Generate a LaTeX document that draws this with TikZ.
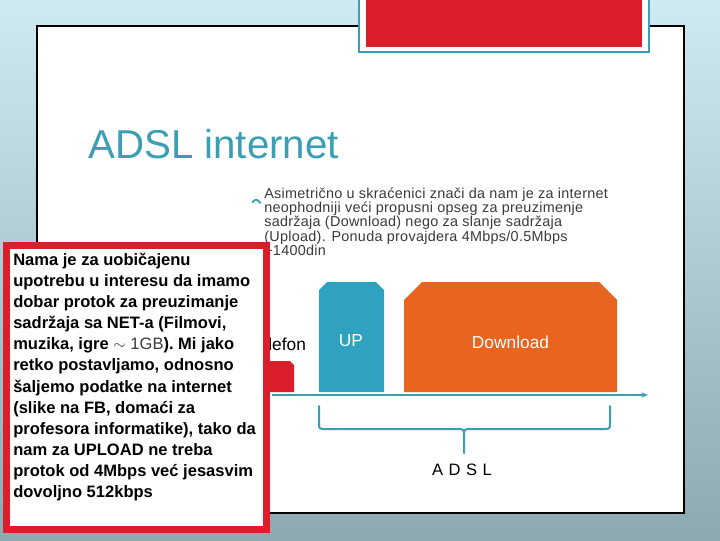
\documentclass[tikz,border=0pt]{standalone}
\usepackage{fontspec}
\setmainfont{Liberation Sans}
\usetikzlibrary{arrows.meta}
\definecolor{bgtop}{HTML}{CFEAF2}
\definecolor{bgbot}{HTML}{8DA9B0}
\definecolor{tealt}{HTML}{3A9FB4}
\definecolor{upc}{HTML}{2EA2C0}
\definecolor{dlc}{HTML}{E8641F}
\definecolor{redc}{HTML}{DA1F2A}
\definecolor{txtg}{HTML}{3A3A3A}
\tikzset{
  barlabel/.style={anchor=base,text=white,font=\fontsize{13}{15}\selectfont},
  tealline/.style={draw=tealt,line width=1.5pt}
}
\begin{document}
\begin{tikzpicture}[x=0.75pt,y=-0.75pt]
    \useasboundingbox (0,0) rectangle (720,540);

    % 背景与白色幻灯片
    \shade[top color=bgtop,bottom color=bgbot] (0,0) rectangle (720,540);
    \filldraw[fill=white,draw=black,line width=0.8pt] (37,26) rectangle (684,513);

    % 顶部红色标签
    \filldraw[fill=white,draw=tealt,line width=2pt] (359,-5) rectangle (649,52);
    \fill[redc] (366,-5) rectangle (642,47);

    % 标题
    \node[anchor=base west,text=tealt,font=\fontsize{30.2}{36}\selectfont,inner sep=0] (title) at (88,158) {ADSL internet};

    % 项目符号与说明文字
    \draw[tealt,line width=1.3pt,line cap=round] (252.5,202.5) .. controls (254.5,199) and (257,199) .. (259,201.5);
    \fill[tealt] (259.8,202.3) circle (1.5);
    \node[anchor=north west,align=left,inner sep=0,text=txtg,font=\fontsize{10.8}{10.7}\selectfont\addfontfeature{LetterSpace=2}] (opis) at (264,187.5)
      {Asimetrično u skraćenici znači da nam je za internet\\
       neophodniji veći propusni opseg za preuzimenje\\
       sadržaja (Download) nego za slanje sadržaja\\
       (Upload). Ponuda provajdera 4Mbps/0.5Mbps\\
       \textasciitilde1400din};

    % 频带：电话、上传、下载
    \fill[redc] (245,392) -- (245,361) -- (290,361) -- (294,365) -- (294,392) -- cycle;
    \fill[upc] (319,392) -- (319,290) -- (327,282) -- (376,282) -- (384,290) -- (384,392) -- cycle;
    \fill[dlc] (404,392) -- (404,300) -- (422,282) -- (599,282) -- (617,300) -- (617,392) -- cycle;
    \node[anchor=base,font=\fontsize{13}{15}\selectfont] (telefon) at (278,350) {Telefon};
    \node[barlabel] (up) at (351,346) {UP};
    \node[barlabel] (down) at (510.5,348) {Download};

    % 频率轴
    \draw[draw=tealt,line width=1.2pt,-{Stealth[length=5pt,width=4pt]}] (272,395) -- (648,395);

    % 大括号
    \draw[tealline,line cap=round,line join=round]
      (319,406) -- (319,423) .. controls (319,429) .. (326,429) -- (457,429)
      .. controls (464,429) .. (464,437) -- (464,453);
    \draw[tealline,line cap=round,line join=round]
      (610,406) -- (610,423) .. controls (610,429) .. (603,429) -- (471,429)
      .. controls (464,429) .. (464,437);
    \node[anchor=base,font=\fontsize{12.4}{15}\selectfont] (adsl) at (462,475) {A\,\,D\,\,S\,\,L};

    % 左下红框说明
    \filldraw[fill=white,draw=redc,line width=5.3pt] (6.5,245.5) rectangle (266.5,529.5);
    \node[anchor=north west,align=left,inner sep=0,font=\fontsize{12.4}{15.8}\selectfont\bfseries] (napomena) at (13,253)
      {Nama je za uobičajenu\\
       upotrebu u interesu da imamo\\
       dobar protok za preuzimanje\\
       sadržaja sa NET-a (Filmovi,\\
       muzika, igre {\mdseries\color{txtg}$\sim$ 1GB}). Mi jako\\
       retko postavljamo, odnosno\\
       šaljemo podatke na internet\\
       (slike na FB, domaći za\\
       profesora informatike), tako da\\
       nam za UPLOAD ne treba\\
       protok od 4Mbps već jesasvim\\
       dovoljno 512kbps};

\end{tikzpicture}
\end{document}
